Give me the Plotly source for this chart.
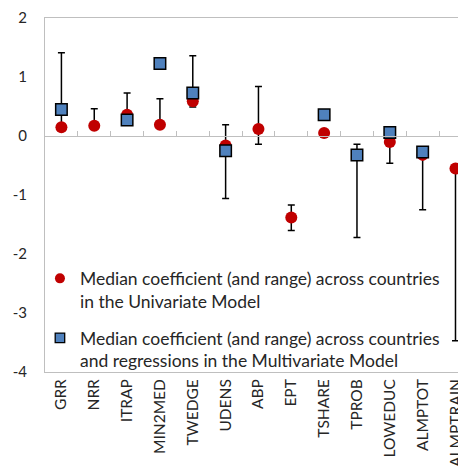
import plotly.graph_objects as go

categories = ["GRR", "NRR", "ITRAP", "MIN2MED", "TWEDGE", "UDENS", "ABP",
              "EPT", "TSHARE", "TPROB", "LOWEDUC", "ALMPTOT", "ALMPTRAIN"]

# univariate model: median coefficient and range across countries
uni_median = [0.15, 0.175, 0.36, 0.19, 0.59, -0.16, 0.12, -1.38, 0.05, None, -0.10, -0.32, -0.55]
uni_low = [0.15, 0.175, 0.36, 0.19, 0.49, -1.06, -0.14, -1.60, None, None, -0.46, -1.25, -3.47]
uni_high = [0.45, 0.46, 0.73, 0.63, 1.36, 0.19, 0.84, -1.17, None, None, -0.10, -0.32, -0.55]

# multivariate model: median coefficient and range across countries and regressions
multi_median = [0.45, None, 0.27, 1.23, 0.73, -0.25, None, None, 0.36, -0.32, 0.06, -0.27, None]
multi_low = [0.45, None, None, None, None, None, None, None, None, -1.72, None, None, None]
multi_high = [1.41, None, None, None, None, None, None, None, None, -0.14, None, None, None]

y_ticks = [2, 1, 0, -1, -2, -3, -4]

uni_label = "Median coefficient (and range) across countries<br>in the Univariate Model"
multi_label = ("Median coefficient (and range) across countries<br>"
               "and regressions in the Multivariate Model")


def spread(med, lo, hi):
    plus, minus = [], []
    for m, a, b in zip(med, lo, hi):
        if m is None or a is None:
            plus.append(None)
            minus.append(None)
        else:
            plus.append(b - m)
            minus.append(m - a)
    return plus, minus


RED = "#C00000"
BLUE = "#4F81BD"
GREY = "#BFBFBF"
TEXT = "#262626"
FONT = "Lato"

uni_plus, uni_minus = spread(uni_median, uni_low, uni_high)
multi_plus, multi_minus = spread(multi_median, multi_low, multi_high)

bar_style = dict(type="data", symmetric=False, color="black", thickness=1.5, width=3.5)

fig = go.Figure()
fig.add_trace(go.Scatter(
    x=categories, y=uni_median, mode="markers", showlegend=False,
    marker=dict(symbol="circle", size=12, color=RED),
    error_y=dict(array=uni_plus, arrayminus=uni_minus, **bar_style),
))
fig.add_trace(go.Scatter(
    x=categories, y=multi_median, mode="markers", showlegend=False,
    marker=dict(symbol="square", size=11.5, color=BLUE, line=dict(color="black", width=1.5)),
    error_y=dict(array=multi_plus, arrayminus=multi_minus, **bar_style),
))

# legend entries (smaller symbols, like the original) live on the zero-line axis
fig.add_trace(go.Scatter(
    x=[None], y=[None], xaxis="x2", mode="markers", name=uni_label, legendgroup="u",
    marker=dict(symbol="circle", size=10, color=RED),
))
fig.add_trace(go.Scatter(
    x=[None], y=[None], xaxis="x2", mode="markers", name=multi_label, legendgroup="m",
    marker=dict(symbol="square", size=9.5, color=BLUE, line=dict(color="black", width=1.3)),
))

n = len(categories)
x_range = [-0.5, n - 0.5 - 0.18]
y_min, y_max = min(y_ticks), max(y_ticks)

# the page body adds an 8px margin, so the figure is 8px smaller than the window
fig.update_layout(
    width=458, height=468,
    margin=dict(l=37, r=0, t=10, b=104),
    paper_bgcolor="white", plot_bgcolor="white",
    font=dict(family=FONT, size=15, color=TEXT),
    xaxis=dict(
        type="category", range=x_range, showgrid=False, zeroline=False,
        showline=True, linecolor=GREY, linewidth=1, mirror=True,
        ticks="", tickangle=-90, tickfont=dict(size=15.5),
    ),
    xaxis2=dict(
        type="linear", overlaying="x", anchor="free",
        position=(0 - y_min) / (y_max - y_min),
        range=x_range, showgrid=False, zeroline=False,
        showline=True, linecolor=GREY, linewidth=1,
        tickvals=[i + 0.5 for i in range(n)], ticks="inside", ticklen=5,
        tickcolor=GREY, showticklabels=False,
    ),
    yaxis=dict(
        range=[y_min, y_max], showgrid=False, zeroline=False,
        showline=True, linecolor=GREY, linewidth=1,
        tickvals=y_ticks, ticktext=[str(v) for v in y_ticks],
        ticks="", ticklabelstandoff=14, tickfont=dict(size=15),
    ),
    legend=dict(
        x=-0.012, xanchor="left", y=0.315, yanchor="top",
        bgcolor="rgba(0,0,0,0)", valign="top", tracegroupgap=11,
        font=dict(size=17.5, color=TEXT),
    ),
)

fig.write_html("out.html")
